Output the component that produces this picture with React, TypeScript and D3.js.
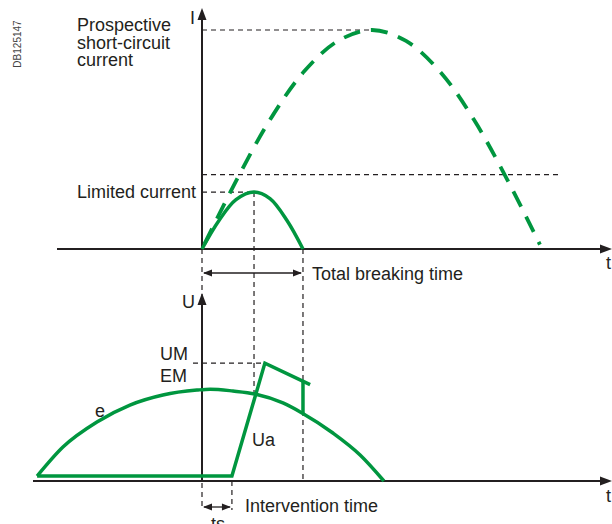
import React from "react";
import * as d3 from "d3";

// ---- data (time in ms, current in % of prospective peak, voltage in arbitrary units) ----
const prospectiveT = [0, 1, 2, 3, 4, 5, 6, 7, 8, 9, 9.94];
const prospectiveI = [0, 31, 59, 81, 95, 100, 95, 81, 59, 31, 2];

const limitedT = [0, 0.5, 1, 1.53, 2, 2.5, 2.97];
const limitedI = [0, 13, 22.5, 26, 23, 13, 0];

const eT = [-4.85, -4.09, -3.09, -2.12, -1.15, -0.15, 0.24, 0.91, 1.56, 2.38, 2.94, 3.85, 4.65, 5.35];
const eU = [5.5, 37.8, 65.6, 84.4, 95.6, 101, 102, 100, 96.7, 86.7, 75.6, 53.3, 28.9, 0];

const uaT = [-4.85, 0.88, 1.85, 3.18];
const uaU = [5.5, 5.5, 131, 107];

const breakT = 2.97; // total breaking time
const tsT = 0.88; // ts
const limitedPeakT = 1.53;
const limitedPeakI = 26;
const prospectivePeakT = 5;
const prospectivePeakI = 100;
const cutLevelI = 34;
const cutLevelEndT = 10.53;
const UM = 131;
const uaVertical = [111, 75];
const dashEndU = 95;

const GREEN = "#00963f";
const INK = "#231f20";
const FONT = "'Liberation Sans', Arial, Helvetica, sans-serif";

export default function App() {
  const x = d3.scaleLinear().domain([0, 10]).range([202, 542]);
  const yI = d3.scaleLinear().domain([0, 100]).range([249, 30]);
  const yU = d3.scaleLinear().domain([0, 210]).range([481, 292]);

  const lineI = d3
    .line<[number, number]>()
    .x((d) => x(d[0]))
    .y((d) => yI(d[1]))
    .curve(d3.curveCatmullRom.alpha(0.5));
  const lineU = d3
    .line<[number, number]>()
    .x((d) => x(d[0]))
    .y((d) => yU(d[1]))
    .curve(d3.curveMonotoneX);
  const polyU = d3
    .line<[number, number]>()
    .x((d) => x(d[0]))
    .y((d) => yU(d[1]));

  const prosp = lineI(prospectiveT.map((t, i) => [t, prospectiveI[i]]))!;
  const lim = lineI(limitedT.map((t, i) => [t, limitedI[i]]))!;
  const eCurve = lineU(eT.map((t, i) => [t, eU[i]]))!;
  const ua = polyU(uaT.map((t, i) => [t, uaU[i]]))!;

  const x0 = x(0);
  const topAxisY = yI(0);
  const botAxisY = yU(0);

  const dash = { stroke: INK, strokeWidth: 1.2, strokeDasharray: "5 4", fill: "none" };
  const txt = { fontFamily: FONT, fontSize: 18, fill: INK };

  const arrowHead = (tipX: number, tipY: number, dir: "up" | "right" | "left", len = 12, w = 4.5) => {
    let pts: number[][];
    if (dir === "up") pts = [[tipX, tipY], [tipX - w, tipY + len], [tipX + w, tipY + len]];
    else if (dir === "right") pts = [[tipX, tipY], [tipX - len, tipY - w], [tipX - len, tipY + w]];
    else pts = [[tipX, tipY], [tipX + len, tipY - w], [tipX + len, tipY + w]];
    return <polygon points={pts.map((p) => p.join(",")).join(" ")} fill={INK} />;
  };

  const dimArrow = (xa: number, xb: number, yy: number) => (
    <g>
      <line x1={xa + 2} x2={xb - 2} y1={yy} y2={yy} stroke={INK} strokeWidth={1.3} />
      {arrowHead(xa + 1, yy, "left", 9, 3.5)}
      {arrowHead(xb - 1, yy, "right", 9, 3.5)}
    </g>
  );

  return (
    <svg
      width={612}
      height={524}
      style={{ position: "absolute", left: 0, top: 0, background: "#fff" }}
    >
      {/* reference code */}
      <text
        transform="translate(21,44) rotate(-90)"
        textAnchor="middle"
        style={{ fontFamily: FONT, fontSize: 10, fill: "#444" }}
      >
        DB125147
      </text>

      {/* black dashed guides */}
      <line x1={x0} x2={x(prospectivePeakT)} y1={yI(prospectivePeakI)} y2={yI(prospectivePeakI)} {...dash} />
      <line x1={x0} x2={x(cutLevelEndT)} y1={yI(cutLevelI)} y2={yI(cutLevelI)} {...dash} />
      <line x1={x0} x2={x(limitedPeakT)} y1={yI(limitedPeakI)} y2={yI(limitedPeakI)} {...dash} />
      <line x1={x(limitedPeakT)} x2={x(limitedPeakT)} y1={yI(limitedPeakI)} y2={yU(dashEndU)} {...dash} />
      <line x1={x(breakT)} x2={x(breakT)} y1={topAxisY} y2={botAxisY} {...dash} />
      <line x1={x0} x2={x0} y1={topAxisY} y2={510} {...dash} />
      <line x1={x(tsT)} x2={x(tsT)} y1={botAxisY} y2={510} {...dash} />
      <line x1={193} x2={x(uaT[2])} y1={yU(UM)} y2={yU(UM)} {...dash} />

      {/* axes */}
      <line x1={57} x2={602} y1={topAxisY} y2={topAxisY} stroke={INK} strokeWidth={2} />
      {arrowHead(612, topAxisY, "right")}
      <line x1={x0} x2={x0} y1={topAxisY} y2={18} stroke={INK} strokeWidth={2} />
      {arrowHead(x0, 8, "up")}
      <line x1={33} x2={602} y1={botAxisY} y2={botAxisY} stroke={INK} strokeWidth={2} />
      {arrowHead(612, botAxisY, "right")}
      <line x1={x0} x2={x0} y1={botAxisY} y2={303} stroke={INK} strokeWidth={2} />
      {arrowHead(x0, 293, "up")}

      {/* dimension arrows */}
      {dimArrow(x0, x(breakT), 273)}
      {dimArrow(x0, x(tsT), 507)}

      {/* green curves */}
      <path d={prosp} fill="none" stroke={GREEN} strokeWidth={3.8} strokeDasharray="17 11" strokeDashoffset={-6} />
      <path d={lim} fill="none" stroke={GREEN} strokeWidth={3.5} />
      <path d={eCurve} fill="none" stroke={GREEN} strokeWidth={3.5} />
      <path d={ua} fill="none" stroke={GREEN} strokeWidth={3.5} strokeLinejoin="miter" />
      <line
        x1={x(breakT)}
        x2={x(breakT)}
        y1={yU(uaVertical[0])}
        y2={yU(uaVertical[1])}
        stroke={GREEN}
        strokeWidth={3.5}
      />

      {/* labels */}
      <text x={190} y={24} style={txt}>I</text>
      <text x={77} y={31} style={txt}>Prospective</text>
      <text x={77} y={48.5} style={txt}>short-circuit</text>
      <text x={77} y={66} style={txt}>current</text>
      <text x={196} y={198} textAnchor="end" style={txt}>Limited current</text>
      <text x={606} y={269} style={txt}>t</text>
      <text x={312} y={280} style={txt}>Total breaking time</text>
      <text x={182} y={308} style={txt}>U</text>
      <text x={160} y={360} style={txt}>UM</text>
      <text x={160} y={382} style={txt}>EM</text>
      <text x={95} y={417} style={txt}>e</text>
      <text x={252} y={446} style={txt}>Ua</text>
      <text x={606} y={502} style={txt}>t</text>
      <text x={245} y={512} style={txt}>Intervention time</text>
      <text x={211} y={530} style={txt}>ts</text>
    </svg>
  );
}
